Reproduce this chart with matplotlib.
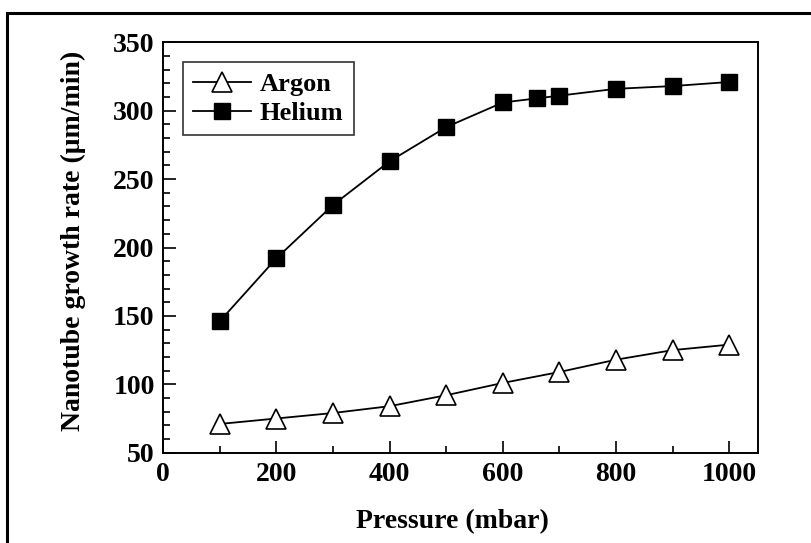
import matplotlib
matplotlib.use('Agg')
import matplotlib.pyplot as plt
from matplotlib.patches import Rectangle
from matplotlib.ticker import MultipleLocator

# Data
pressure_he = [100, 200, 300, 400, 500, 600, 660, 700, 800, 900, 1000]
rate_he = [146, 192, 231, 263, 288, 306, 309, 311, 316, 318, 321]

pressure_ar = [100, 200, 300, 400, 500, 600, 700, 800, 900, 1000]
rate_ar = [71, 75, 79, 84, 92, 101, 109, 118, 125, 129]

plt.rcParams['font.family'] = ['Liberation Serif', 'DejaVu Serif']
plt.rcParams['font.weight'] = 'bold'

fig = plt.figure(figsize=(8.11, 5.43), dpi=100)
W, H = 811, 543
ax = fig.add_axes([163 / W, 1 - 452.7 / H, (757.7 - 163) / W, (452.7 - 42.3) / H])

# Outer frame of the picture
fig.patches.append(Rectangle((7 / W, -0.2), 1.2, 1.2 - 13 / H, transform=fig.transFigure,
                             fill=False, edgecolor='black', linewidth=2.2))

ax.plot(pressure_ar, rate_ar, '-^', color='black', linewidth=1.3, markersize=14,
        markerfacecolor='white', markeredgecolor='black', markeredgewidth=1.2, label='Argon')
ax.plot(pressure_he, rate_he, '-s', color='black', linewidth=1.3, markersize=11,
        markerfacecolor='black', markeredgecolor='black', label='Helium')

ax.set_xlim(0, 1050)
ax.set_ylim(50, 350)
ax.xaxis.set_major_locator(MultipleLocator(200))
ax.xaxis.set_minor_locator(MultipleLocator(100))
ax.yaxis.set_major_locator(MultipleLocator(50))
ax.yaxis.set_minor_locator(MultipleLocator(10))

ax.tick_params(which='both', direction='in', top=False, right=False, width=1.2, labelsize=20)
ax.tick_params(which='major', length=9)
ax.tick_params(which='minor', length=5)
ax.tick_params(axis='x', pad=7)
ax.tick_params(axis='y', pad=6)
for s in ax.spines.values():
    s.set_linewidth(1.4)

ax.set_xlabel('Pressure (mbar)', fontsize=20, fontweight='bold')
ax.set_ylabel('Nanotube growth rate (\u03bcm/min)', fontsize=20, fontweight='bold')
ax.xaxis.set_label_coords(0.487, -0.138)
ax.yaxis.set_label_coords(-0.13, 0.515)

leg = ax.legend(loc='upper left', fontsize=19, frameon=True, fancybox=False,
                borderaxespad=0.75, handlelength=2.2, handletextpad=0.3,
                borderpad=0.4, labelspacing=0.2)
leg.get_frame().set_edgecolor('black')
leg.get_frame().set_linewidth(1.2)

fig.savefig('out.png', dpi=100)
